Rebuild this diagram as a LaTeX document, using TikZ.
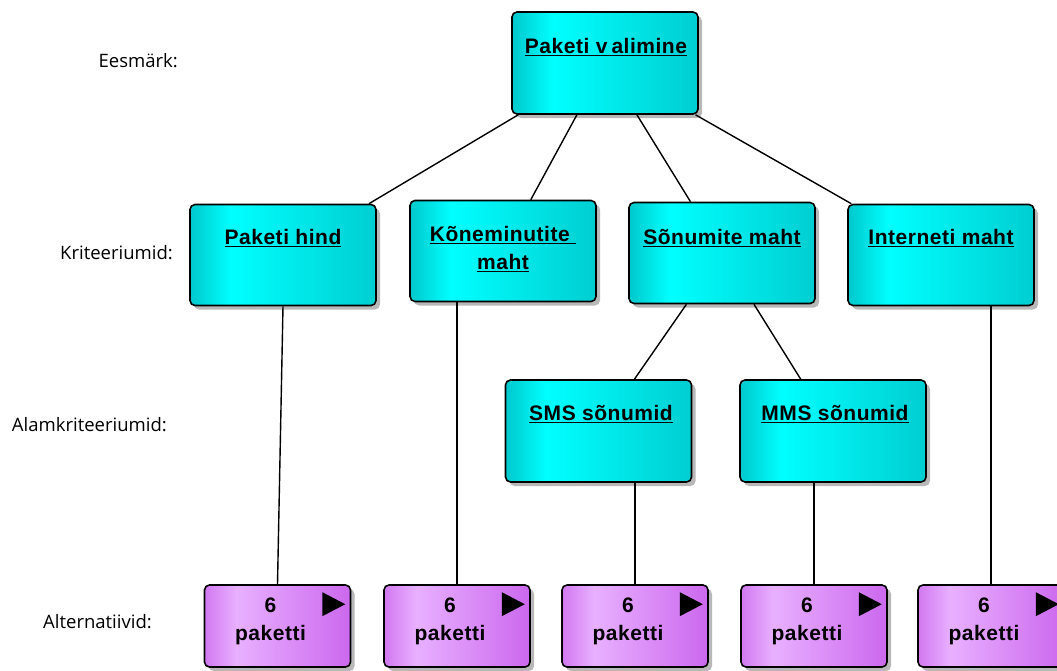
\documentclass[tikz,border=0pt]{standalone}
\usepackage{fontspec}
\setmainfont{Liberation Sans}
\newfontfamily\labfont{Open Sans}
\usetikzlibrary{shadows}
\definecolor{cyL}{RGB}{0,200,204}
\definecolor{cyB}{RGB}{0,255,255}
\definecolor{cyR}{RGB}{0,206,209}
\definecolor{puL}{RGB}{210,120,240}
\definecolor{puB}{RGB}{232,176,255}
\definecolor{puR}{RGB}{204,104,238}
\pgfdeclarehorizontalshading{cyansh}{100bp}{color(0bp)=(cyL); color(25bp)=(cyL); color(36bp)=(cyB); color(75bp)=(cyR); color(100bp)=(cyR)}
\pgfdeclarehorizontalshading{pursh}{100bp}{color(0bp)=(puL); color(25bp)=(puL); color(36bp)=(puB); color(75bp)=(puR); color(100bp)=(puR)}
\newcommand\myul[1]{\setbox0\hbox{#1}\rlap{\rule[-3pt]{\wd0}{1.6pt}}\box0}
\tikzset{
  box/.style={draw=black, line width=1.6pt, rounded corners=5pt, inner sep=0pt,
    drop shadow={shadow xshift=4pt, shadow yshift=-4pt, fill=black!28, opacity=1}},
  crit/.style={box, shade, shading=cyansh, minimum width=186pt, minimum height=101pt},
  alt/.style={box, shade, shading=pursh, minimum width=146pt, minimum height=82pt},
  btext/.style={font=\addfontfeature{LetterSpace=2.5}\fontsize{21}{28}\selectfont\bfseries, align=center, inner sep=0pt},
  lab/.style={font=\labfont\fontsize{18.5}{20}\selectfont, anchor=east, inner sep=0pt},
  conn/.style={draw=black, line width=1.4pt},
  tri/.style={fill=black}
}
\begin{document}
\begin{tikzpicture}[x=1pt,y=-1pt]
\useasboundingbox (0,0) rectangle (1057,670);
\clip (0,0) rectangle (1057,670);
% level labels
\node[lab] (l1) at (178,61) {Eesmärk:};
\node[lab] (l2) at (173,253) {Kriteeriumid:};
\node[lab] (l3) at (167,425) {Alamkriteeriumid:};
\node[lab] (l4) at (152,622) {Alternatiivid:};
% boxes
\node[crit, minimum height=102pt] (top) at (605,63) {};
\node[crit] (hind) at (283,255) {};
\node[crit] (kone) at (503,251) {};
\node[crit] (sonu) at (722,253) {};
\node[crit] (inet) at (941,255) {};
\node[crit, minimum height=102pt] (sms) at (598.5,431) {};
\node[crit, minimum height=102pt] (mms) at (833,431) {};
\node[alt] (a1) at (277.5,626) {};
\node[alt] (a2) at (457,626) {};
\node[alt] (a3) at (635,626) {};
\node[alt] (a4) at (814,626) {};
\node[alt] (a5) at (991,626) {};
% connectors
\draw[conn] (top) -- (hind);
\draw[conn] (top) -- (kone);
\draw[conn] (top) -- (sonu);
\draw[conn] (top) -- (inet);
\draw[conn] (sonu) -- (sms);
\draw[conn] (sonu) -- (mms);
\draw[conn] (hind.south) -- (a1.north);
\draw[conn] (kone.south -| a2.north) -- (a2.north);
\draw[conn] (sms.south -| a3.north) -- (a3.north);
\draw[conn] (mms.south -| a4.north) -- (a4.north);
\draw[conn] (inet.south -| a5.north) -- (a5.north);
% texts
\node[btext] (ttop) at (606,47) {\myul{Paketi v\kern4pt alimine}};
\node[btext] (thind) at (283,238) {\myul{Paketi hind}};
\node[btext] (tkone) at (503,249) {\myul{Kõneminutite\ }\\\myul{maht}};
\node[btext] (tsonu) at (722,238) {\myul{Sõnumite maht}};
\node[btext] (tinet) at (941,238) {\myul{Interneti maht}};
\node[btext] (tsms) at (601,414) {\myul{SMS sõnumid}};
\node[btext] (tmms) at (835,414) {\myul{MMS sõnumid}};
\foreach \a in {a1,a2,a3,a4,a5}{
  \node[btext] (t\a) at ([shift={(-7,-5)}]\a.center) {6\\paketti};
  \fill[tri] ([shift={(-29,8)}]\a.north east) -- ([shift={(-6,20)}]\a.north east) -- ([shift={(-29,32)}]\a.north east) -- cycle;
}
\end{tikzpicture}
\end{document}
